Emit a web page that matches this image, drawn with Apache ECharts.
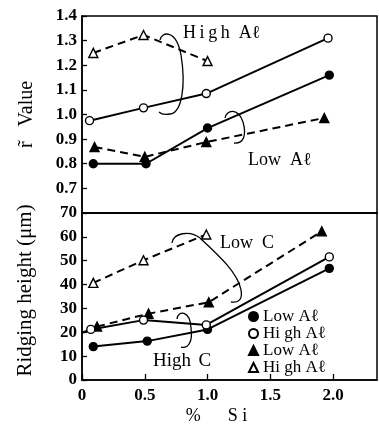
<!DOCTYPE html>
<html><head><meta charset="utf-8">
<script src="https://cdn.jsdelivr.net/npm/echarts@6/dist/echarts.min.js"></script>
<style>html,body{margin:0;padding:0;background:#fff}#c{width:379px;height:426px}</style>
</head><body><div id="c"></div>
<script>
// ---- data (x = % Si) ----
// top panel: r-value
var rLowAlCircle  = [[0.09,0.80],[0.51,0.80],[1.00,0.945],[1.97,1.16]];
var rHighAlCircle = [[0.06,0.975],[0.49,1.027],[0.99,1.085],[1.96,1.31]];
var rLowAlTri     = [[0.10,0.868],[0.50,0.828],[0.99,0.888],[1.93,0.986]];
var rHighAlTri    = [[0.09,1.25],[0.49,1.323],[1.00,1.217]];
// bottom panel: ridging height (um)
var hLowAlCircle  = [[0.09,14.0],[0.52,16.3],[1.00,21.2],[1.97,46.8]];
var hHighAlCircle = [[0.00,19.8],[0.07,21.2],[0.49,25.1],[0.99,23.1],[1.97,51.6]];
var hLowAlTri     = [[0.12,22.4],[0.53,27.8],[1.01,32.6],[1.91,62.3]];
var hHighAlTri    = [[0.09,40.7],[0.49,50.2],[0.99,61.0]];
var xTicks = [0, 0.5, 1.0, 1.5, 2.0];
var legendLabels = ['Low A\u2113','Hi gh A\u2113','Low A\u2113','Hi gh A\u2113'];
var seriesNames = ['s1','s2','s3','s4'];

var F = 'Liberation Serif';
var chart = echarts.init(document.getElementById('c'));
function mk(name, data, gi, sym, filled, dashed, firstNoSym){
  return {
    name: name, type:'line', xAxisIndex:gi, yAxisIndex:gi,
    data: data.map(function(d,i){ var o={value:d}; if(firstNoSym && i===0){o.symbol='none';} return o;}),
    symbol: sym, symbolSize: sym==='triangle'?9:8,
    itemStyle: {color: filled?'#000':'#fff', borderColor:'#000', borderWidth:1.4},
    lineStyle: {color:'#000', width:2, type: dashed?[8,5]:'solid'},
    emphasis:{disabled:true}, animation:false, z: filled?3:4
  };
}
var yLab = {fontFamily:F, fontWeight:'bold', fontSize:17, color:'#000', margin:5};
var opt = {
  animation:false,
  grid:[
    {left:82, right:2, top:16, height:197, show:true, borderColor:'#000', borderWidth:1.5},
    {left:82, right:2, top:213, height:172, show:true, borderColor:'#000', borderWidth:1.5}
  ],
  xAxis:[
    {gridIndex:0, type:'value', min:0, max:2.35, interval:0.5, axisLine:{lineStyle:{color:'#000',width:1.5}},
     axisTick:{show:false}, axisLabel:{show:false}, splitLine:{show:false}},
    {gridIndex:1, type:'value', min:0, max:2.35, interval:0.5,
     axisLine:{lineStyle:{color:'#000',width:1.5}},
     axisTick:{inside:true, length:6, lineStyle:{color:'#000',width:1.3}},
     axisLabel:{fontFamily:F, fontWeight:'bold', fontSize:17, color:'#000', margin:7, showMaxLabel:false,
       formatter:function(v){ return v===0?'0':v.toFixed(1);} },
     splitLine:{show:false},
     name:'%      S i', nameLocation:'middle', nameGap:27,
     nameTextStyle:{fontFamily:F, fontSize:18, color:'#000', padding:[0,26,0,0]}}
  ],
  yAxis:[
    {gridIndex:0, type:'value', min:0.6, max:1.4, interval:0.1,
     axisLine:{lineStyle:{color:'#000',width:1.5}},
     axisTick:{inside:true, length:5, lineStyle:{color:'#000',width:1.3}},
     axisLabel:Object.assign({}, yLab, {showMinLabel:false, formatter:function(v){return v.toFixed(1);}}),
     splitLine:{show:false},
     name:'r\u0303   Value', nameLocation:'middle', nameGap:45, nameRotate:90,
     nameTextStyle:{fontFamily:F, fontSize:20, color:'#000'}},
    {gridIndex:1, type:'value', min:0, max:70, interval:10,
     axisLine:{lineStyle:{color:'#000',width:1.5}},
     axisTick:{inside:true, length:5, lineStyle:{color:'#000',width:1.3}},
     axisLabel:yLab, splitLine:{show:false},
     name:'Ridging height (\u03bcm)', nameLocation:'middle', nameGap:46, nameRotate:90,
     nameTextStyle:{fontFamily:F, fontSize:21, color:'#000', padding:[0,0,0,12]}}
  ],
  legend:{
    orient:'vertical', left:243, top:303, itemGap:0, itemWidth:9, itemHeight:9,
    selectedMode:false,
    data:[{name:'s1',icon:'circle'},{name:'s2',icon:'circle'},{name:'s3',icon:'triangle'},{name:'s4',icon:'triangle'}],
    formatter:function(n){ return legendLabels[seriesNames.indexOf(n)]; },
    textStyle:{fontFamily:F, fontSize:17, lineHeight:15, color:'#000'}
  },
  series:[
    mk('s1', rLowAlCircle, 0, 'circle', true, false),
    mk('s2', rHighAlCircle, 0, 'circle', false, false),
    mk('s3', rLowAlTri, 0, 'triangle', true, true),
    mk('s4', rHighAlTri, 0, 'triangle', false, true),
    mk('s1', hLowAlCircle, 1, 'circle', true, false),
    mk('s2', hHighAlCircle, 1, 'circle', false, false, true),
    mk('s3', hLowAlTri, 1, 'triangle', true, true),
    mk('s4', hHighAlTri, 1, 'triangle', false, true)
  ],
  graphic:(function(){
    var st = {stroke:'#000', lineWidth:1.3, fill:null};
    function bz(a){ return {type:'bezierCurve', shape:{x1:a[0],y1:a[1],cpx1:a[2],cpy1:a[3],cpx2:a[4],cpy2:a[5],x2:a[6],y2:a[7]}, style:st, z:10}; }
    function tx(x,y,t,s){ return {type:'text', left:x, top:y, style:{text:t, font:(s||18)+'px "Liberation Serif"', fill:'#000'}, z:10}; }
    return [
      // High Al bracket (top)
      bz([160,40, 161,32, 176,28, 181,55]),
      bz([181,55, 186,85, 182,113, 170,114]),
      bz([170,114, 165,115, 161,114, 159,112]),
      // Low Al bracket (top)
      bz([225,118, 226,110, 238,107, 243,122]),
      bz([243,122, 247,136, 243,144, 234,143]),
      // Low C bracket
      bz([172,243, 173,233, 190,230, 200,238]),
      bz([200,238, 215,252, 238,272, 241,290]),
      bz([241,290, 243,300, 238,303, 231,302]),
      // High C bracket
      bz([177,319, 178,310, 190,310, 191,328]),
      bz([191,328, 193,342, 188,349, 181,347]),
      tx(183,24, 'H\u2009i\u2009g\u2009h\u2002A\u2113', 18),
      tx(248,151, 'Low\u2002A\u2113', 18),
      tx(220,234, 'Low\u2002C', 18),
      tx(153,352, 'High\u2009\u2009C', 19)
    ];
  })()
};
chart.setOption(opt);
</script></body></html>
